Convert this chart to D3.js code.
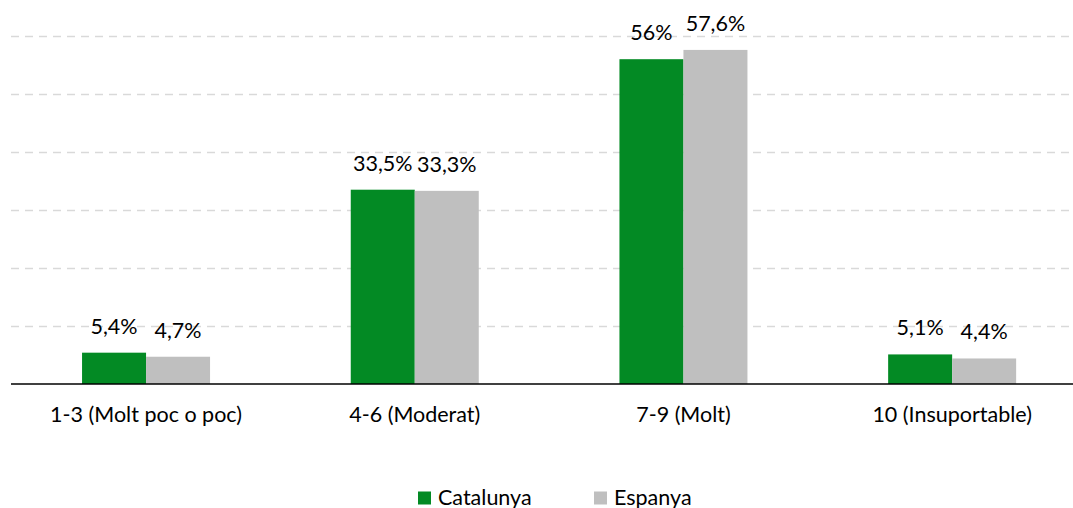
<!DOCTYPE html>
<html>
<head>
<meta charset="utf-8">
<script src="https://cdn.jsdelivr.net/npm/d3@7"></script>
<style>
html,body{margin:0;padding:0;background:#fff;}
svg{display:block;font-family:Lato,"Open Sans",sans-serif;}
</style>
</head>
<body>
<svg id="chart" width="1073" height="508"></svg>
<script>
const categories = ["1-3 (Molt poc o poc)", "4-6 (Moderat)", "7-9 (Molt)", "10 (Insuportable)"];
const catalunya = [5.4, 33.5, 56, 5.1];
const espanya = [4.7, 33.3, 57.6, 4.4];
const catalunyaLabels = ["5,4%", "33,5%", "56%", "5,1%"];
const espanyaLabels = ["4,7%", "33,3%", "57,6%", "4,4%"];
const seriesNames = ["Catalunya", "Espanya"];
const gridTicks = [10, 20, 30, 40, 50, 60];

const colors = {"Catalunya": "#038A24", "Espanya": "#BFBFBF"};
const FS = 21.5;
const svg = d3.select("#chart");
const W = 1073;

const x0 = d3.scaleBand().domain(categories).range([11.7, 1086.5]).paddingInner(0).paddingOuter(0);
const x1 = d3.scaleBand().domain(seriesNames).range([0, 128]);
const y = d3.scaleLinear().domain([0, 60]).range([384, 36]);

const series = [
  {name: "Catalunya", values: catalunya, labels: catalunyaLabels},
  {name: "Espanya", values: espanya, labels: espanyaLabels}
];

// gridlines
svg.append("g").selectAll("line").data(gridTicks).join("line")
  .attr("x1", 11).attr("x2", W)
  .attr("y1", d => Math.round(y(d)) + 0.5).attr("y2", d => Math.round(y(d)) + 0.5)
  .attr("stroke", "#D9D9D9").attr("stroke-width", 1.3)
  .attr("stroke-dasharray", "8,6");

const groupX = c => x0(c) + x0.bandwidth() / 2 - 64;

// bars
series.forEach(s => {
  const g = svg.append("g");
  g.selectAll("rect").data(categories).join("rect")
    .attr("x", (c) => groupX(c) + x1(s.name))
    .attr("width", x1.bandwidth())
    .attr("y", (c, i) => y(s.values[i]))
    .attr("height", (c, i) => y(0) - y(s.values[i]))
    .attr("fill", colors[s.name]);
  g.selectAll("text").data(categories).join("text")
    .attr("x", (c) => groupX(c) + x1(s.name) + x1.bandwidth() / 2)
    .attr("y", (c, i) => y(s.values[i]) - 19)
    .attr("text-anchor", "middle")
    .attr("font-size", FS)
    .attr("fill", "#000")
    .text((c, i) => s.labels[i]);
});

// baseline
svg.append("line").attr("x1", 11).attr("x2", W)
  .attr("y1", y(0)).attr("y2", y(0))
  .attr("stroke", "#000").attr("stroke-width", 1.5);

// category axis labels
const xAxis = d3.axisBottom(x0).tickSize(0).tickPadding(0);
const ax = svg.append("g").attr("transform", `translate(0,${y(0)})`).call(xAxis);
ax.select(".domain").remove();
ax.selectAll("text").attr("font-size", FS).attr("fill", "#000")
  .attr("font-family", "Lato,'Open Sans',sans-serif")
  .attr("dy", null).attr("y", 37.5);

// legend
const legendX = [418, 594];
const lg = svg.append("g");
seriesNames.forEach((n, i) => {
  lg.append("rect").attr("x", legendX[i]).attr("y", 491.5).attr("width", 13).attr("height", 13).attr("fill", colors[n]);
  lg.append("text").attr("x", legendX[i] + 20).attr("y", 504.5).attr("font-size", FS).attr("fill", "#000").text(n);
});
</script>
</body>
</html>
